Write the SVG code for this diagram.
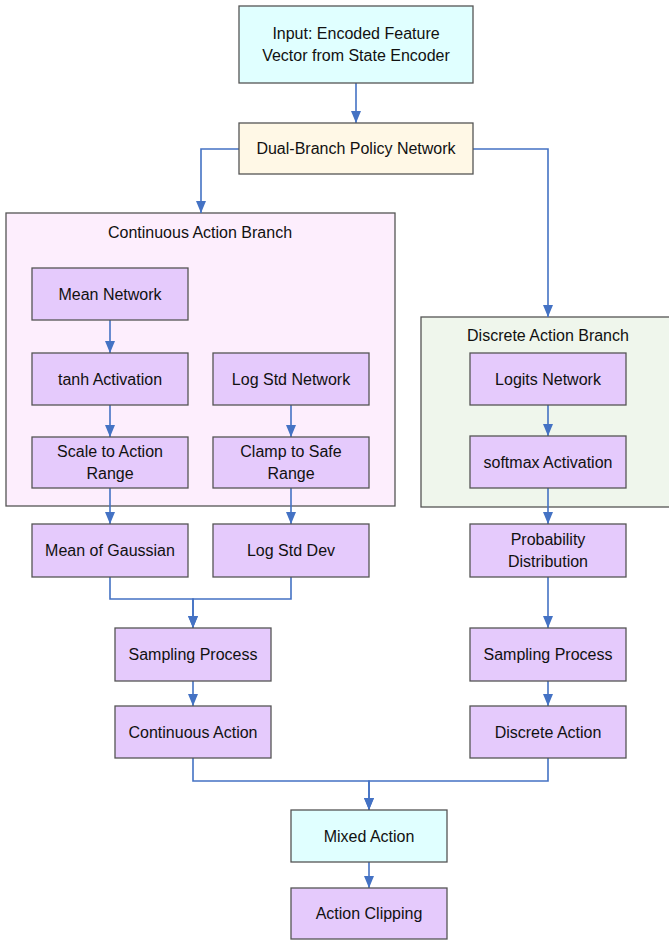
<svg xmlns="http://www.w3.org/2000/svg" width="669" height="942" viewBox="0 0 669 942">
<defs>
<marker id="ah" viewBox="0 0 12 10" refX="12" refY="5" markerWidth="12" markerHeight="10" markerUnits="userSpaceOnUse" orient="auto">
<path d="M0 0 L12 5 L0 10 Z" fill="#4472c4"/>
</marker>
<style>
.n{stroke:#555;stroke-width:1.3}
.p{fill:#e5cafc}
.c{fill:#e0ffff}
.o{fill:#fff8e6}
.t{font-family:"Liberation Sans",Arial,sans-serif;font-size:16px;fill:#111;text-anchor:middle}
.e{fill:none;stroke:#4472c4;stroke-width:1.6;marker-end:url(#ah)}
</style>
</defs>
<rect width="669" height="942" fill="#fff"/>
<g id="cluster-continuous">
<rect x="6" y="213" width="389" height="293" fill="#fdeefd" class="n"/>
<text class="t" x="200" y="238">Continuous Action Branch</text>
</g>
<g id="cluster-discrete">
<rect x="421" y="317" width="260" height="190" fill="#eff6ec" class="n"/>
<text class="t" x="548" y="341">Discrete Action Branch</text>
</g>
<g id="edges">
<path class="e" d="M356 83 V123"/>
<path class="e" d="M239 149 H201 V213"/>
<path class="e" d="M473 149 H548 V317"/>
<path class="e" d="M110 320 V353"/>
<path class="e" d="M110 405 V437"/>
<path class="e" d="M291 405 V437"/>
<path class="e" d="M110 488 V524"/>
<path class="e" d="M291 488 V524"/>
<path class="e" d="M548 405 V436"/>
<path class="e" d="M548 488 V524"/>
<path class="e" d="M110 577 V599 H193 V628"/>
<path class="e" d="M291 577 V599 H193 V628"/>
<path class="e" d="M193 681 V706"/>
<path class="e" d="M548 577 V628"/>
<path class="e" d="M548 681 V706"/>
<path class="e" d="M193 758 V781 H369 V810"/>
<path class="e" d="M548 758 V781 H369 V810"/>
<path class="e" d="M369 862 V888"/>
</g>
<g id="input"><rect x="239" y="6" width="234" height="77" class="n c"/><text class="t" x="356" y="39">Input: Encoded Feature</text><text class="t" x="356" y="61">Vector from State Encoder</text></g>
<g id="dual"><rect x="239" y="123" width="234" height="51" class="n o"/><text class="t" x="356" y="154">Dual-Branch Policy Network</text></g>
<g id="mean-net"><rect x="32" y="268" width="156" height="52" class="n p"/><text class="t" x="110" y="300">Mean Network</text></g>
<g id="tanh"><rect x="32" y="353" width="156" height="52" class="n p"/><text class="t" x="110" y="385">tanh Activation</text></g>
<g id="logstd-net"><rect x="213" y="353" width="156" height="52" class="n p"/><text class="t" x="291" y="385">Log Std Network</text></g>
<g id="scale"><rect x="32" y="437" width="156" height="51" class="n p"/><text class="t" x="110" y="457">Scale to Action</text><text class="t" x="110" y="479">Range</text></g>
<g id="clamp"><rect x="213" y="437" width="156" height="51" class="n p"/><text class="t" x="291" y="457">Clamp to Safe</text><text class="t" x="291" y="479">Range</text></g>
<g id="logits"><rect x="470" y="353" width="156" height="52" class="n p"/><text class="t" x="548" y="385">Logits Network</text></g>
<g id="softmax"><rect x="470" y="436" width="156" height="52" class="n p"/><text class="t" x="548" y="468">softmax Activation</text></g>
<g id="mean-gauss"><rect x="32" y="524" width="156" height="53" class="n p"/><text class="t" x="110" y="556">Mean of Gaussian</text></g>
<g id="logstd-dev"><rect x="213" y="524" width="156" height="53" class="n p"/><text class="t" x="291" y="556">Log Std Dev</text></g>
<g id="prob"><rect x="470" y="524" width="156" height="53" class="n p"/><text class="t" x="548" y="545">Probability</text><text class="t" x="548" y="567">Distribution</text></g>
<g id="sample-c"><rect x="115" y="628" width="156" height="53" class="n p"/><text class="t" x="193" y="660">Sampling Process</text></g>
<g id="sample-d"><rect x="470" y="628" width="156" height="53" class="n p"/><text class="t" x="548" y="660">Sampling Process</text></g>
<g id="cont-action"><rect x="115" y="706" width="156" height="52" class="n p"/><text class="t" x="193" y="738">Continuous Action</text></g>
<g id="disc-action"><rect x="470" y="706" width="156" height="52" class="n p"/><text class="t" x="548" y="738">Discrete Action</text></g>
<g id="mixed"><rect x="291" y="810" width="156" height="52" class="n c"/><text class="t" x="369" y="842">Mixed Action</text></g>
<g id="clip"><rect x="291" y="888" width="156" height="51" class="n p"/><text class="t" x="369" y="919">Action Clipping</text></g>
</svg>
